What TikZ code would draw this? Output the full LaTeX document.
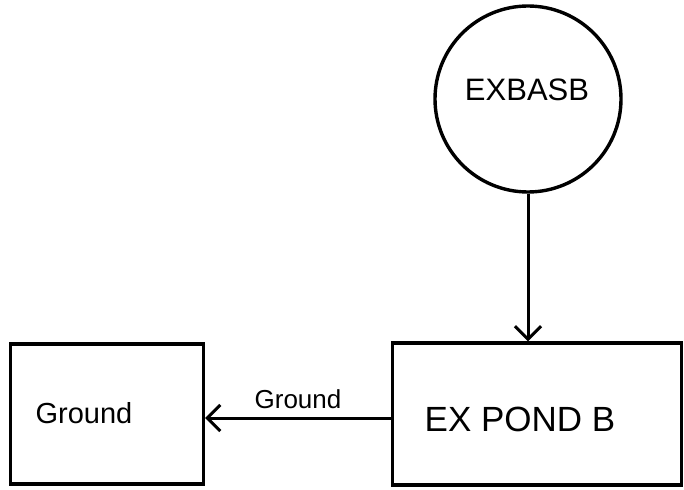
\documentclass[tikz,border=0pt]{standalone}
\usepackage{fontspec}
\setmainfont{Liberation Sans}
\usetikzlibrary{arrows.meta}
\begin{document}
\begin{tikzpicture}[x=1pt,y=-1pt,
  figbox/.style={draw,line width=3.4pt},
  conn/.style={line width=3pt,-{Straight Barb[length=13pt,width=26pt,line width=3pt]}}]
\useasboundingbox (0,0) rectangle (684,489);
\node[figbox,circle,minimum size=186pt,inner sep=0pt] (bas) at (528,99) {};
\node[font=\fontsize{31}{33}\selectfont] (bastext) at (527,90) {EXBASB};
\node[figbox,rectangle,minimum width=193pt,minimum height=140pt,inner sep=0pt] (ground) at (107,414) {};
\node[font=\fontsize{29}{31}\selectfont] (groundtext) at (84,413) {Ground};
\node[figbox,rectangle,minimum width=289pt,minimum height=142pt,inner sep=0pt] (pond) at (537,414) {};
\node[font=\fontsize{35}{37}\selectfont] (pondtext) at (520,419) {EX POND B};
\coordinate (ay) at (0,418);
\draw[conn] (bas.south) -- (pond.north -| bas.south);
\draw[conn] (pond.west |- ay) -- node[above=4pt,font=\fontsize{26}{28}\selectfont] {Ground} (ground.east |- ay);
\end{tikzpicture}
\end{document}
